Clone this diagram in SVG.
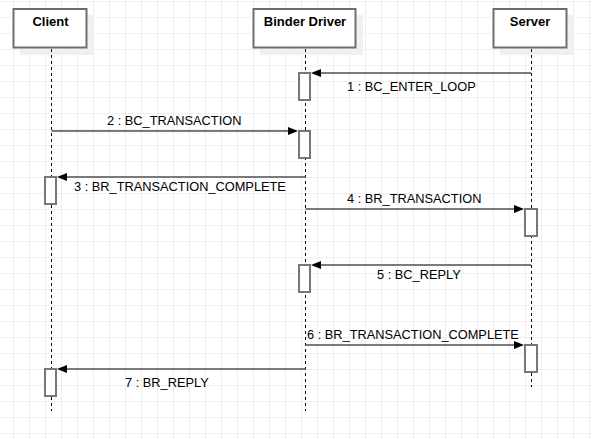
<svg xmlns="http://www.w3.org/2000/svg" width="592" height="439" viewBox="0 0 592 439">
<defs>
<pattern id="grid" x="13" y="1" width="16" height="16" patternUnits="userSpaceOnUse">
<path d="M0.5 0V16M0 0.5H16" fill="none" stroke="#efefef" stroke-width="1"/>
</pattern>
<marker id="arr" markerUnits="userSpaceOnUse" markerWidth="11" markerHeight="9" viewBox="0 0 11 9" refX="2" refY="4.5" orient="auto">
<path d="M0,0.5 L10,4.5 L0,8.5 z" fill="#000"/>
</marker>
<style>
.hdr{fill:#fff;stroke:#6e6e6e;stroke-width:2}
.shd{fill:#f0f0f0}
.ht{font-family:"Liberation Sans",Arial,sans-serif;font-weight:bold;font-size:13px;fill:#000;text-anchor:middle}
.life{stroke:#000;stroke-width:1;stroke-dasharray:3 3;fill:none}
.act{fill:#fff;stroke:#777;stroke-width:2}
.msg{stroke:#7a7a7a;stroke-width:2;fill:none;marker-end:url(#arr)}
.lbl{font-family:"Liberation Sans",Arial,sans-serif;font-size:12.8px;fill:#000}
</style>
</defs>
<rect width="592" height="439" fill="#fff"/>
<rect width="592" height="439" fill="url(#grid)"/>

<g id="client">
<rect class="shd" x="20" y="15" width="74" height="40"/>
<rect class="hdr" x="13.5" y="9" width="73" height="38.5"/>
<text class="ht" x="50.5" y="25.5">Client</text>
<line class="life" x1="51.5" y1="49" x2="51.5" y2="411"/>
</g>
<g id="binder">
<rect class="shd" x="260" y="15" width="103" height="40"/>
<rect class="hdr" x="253.5" y="9" width="102" height="38.5"/>
<text class="ht" x="305" y="25.5">Binder Driver</text>
<line class="life" x1="305.5" y1="49" x2="305.5" y2="411"/>
</g>
<g id="server">
<rect class="shd" x="500" y="15" width="74" height="40"/>
<rect class="hdr" x="493.5" y="9" width="73" height="38.5"/>
<text class="ht" x="530" y="25.5">Server</text>
<line class="life" x1="531.5" y1="49" x2="531.5" y2="387"/>
</g>

<g id="activations">
<rect class="act" x="299" y="73" width="11" height="27"/>
<rect class="act" x="299" y="131" width="11" height="27"/>
<rect class="act" x="45" y="177" width="11" height="27"/>
<rect class="act" x="525" y="209" width="12" height="27"/>
<rect class="act" x="299" y="265" width="11" height="27"/>
<rect class="act" x="525" y="345" width="12" height="27"/>
<rect class="act" x="45" y="369" width="11" height="27"/>
</g>

<g id="connectors">
<line class="msg" x1="531" y1="73" x2="319" y2="73"/>
<line class="msg" x1="51.5" y1="131" x2="290" y2="131"/>
<line class="msg" x1="305.5" y1="177" x2="65" y2="177"/>
<line class="msg" x1="305.5" y1="209" x2="516" y2="209"/>
<line class="msg" x1="531" y1="265" x2="319" y2="265"/>
<line class="msg" x1="305.5" y1="345" x2="516" y2="345"/>
<line class="msg" x1="305.5" y1="369" x2="65" y2="369"/>
</g>

<g id="labels">
<text class="lbl" x="347" y="91">1 : BC_ENTER_LOOP</text>
<text class="lbl" x="107" y="124.5">2 : BC_TRANSACTION</text>
<text class="lbl" x="74" y="190.5">3 : BR_TRANSACTION_COMPLETE</text>
<text class="lbl" x="347" y="202.5">4 : BR_TRANSACTION</text>
<text class="lbl" x="377" y="278.5">5 : BC_REPLY</text>
<text class="lbl" x="307" y="338.5">6 : BR_TRANSACTION_COMPLETE</text>
<text class="lbl" x="125" y="386.5">7 : BR_REPLY</text>
</g>
</svg>
